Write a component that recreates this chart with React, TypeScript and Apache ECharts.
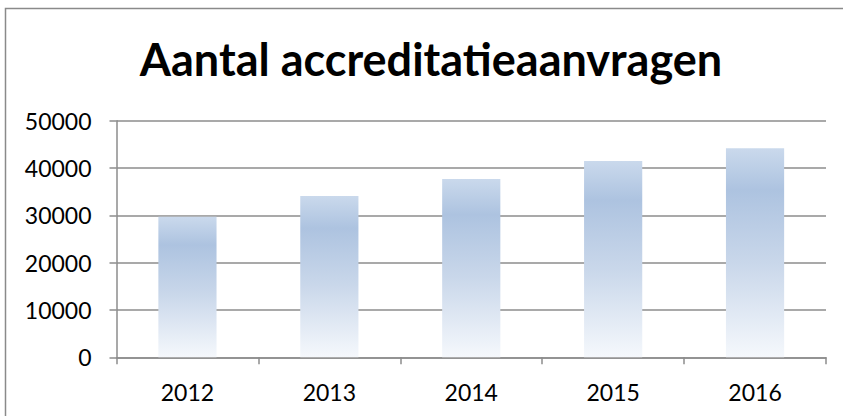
import React, { useEffect, useRef } from "react";
import * as echarts from "echarts";

const categories = ["2012", "2013", "2014", "2015", "2016"];
const values = [29700, 34100, 37700, 41500, 44200];
const titleText = "Aantal accreditatieaanvragen";

export default function App() {
  const ref = useRef<HTMLDivElement>(null);
  useEffect(() => {
    if (!ref.current) return;
    const chart = echarts.init(ref.current, null, { renderer: "svg" });
    const barGradient = new echarts.graphic.LinearGradient(0, 0, 0, 1, [
      { offset: 0, color: "#cad9ec" },
      { offset: 0.2, color: "#adc3e0" },
      { offset: 0.55, color: "#c9d7ea" },
      { offset: 1, color: "#f5f8fc" },
    ]);
    chart.setOption({
      animation: false,
      backgroundColor: "#ffffff",
      textStyle: { fontFamily: "Lato" },
      graphic: [
        {
          type: "rect",
          shape: { x: 5.5, y: 8.5, width: 900, height: 500 },
          style: { fill: "none", stroke: "#8a8a8a", lineWidth: 1.5 },
          silent: true,
        },
        {
          type: "text",
          x: 431,
          y: 59,
          style: {
            text: titleText,
            font: "bold 45px Lato",
            fill: "#000000",
            textAlign: "center",
            textVerticalAlign: "middle",
          },
        },
      ],
      grid: { left: 116.5, right: 17, top: 120.7, bottom: 58.7, containLabel: false },
      xAxis: {
        type: "category",
        data: categories,
        axisLine: { show: true, lineStyle: { color: "#8c8c8c", width: 1.5 } },
        axisTick: { show: true, length: 7, lineStyle: { color: "#8c8c8c", width: 1.5 } },
        axisLabel: { color: "#000", fontSize: 23, fontFamily: "Lato", margin: 23 },
        splitLine: { show: false },
      },
      yAxis: {
        type: "value",
        min: 0,
        max: 50000,
        interval: 10000,
        axisLine: { show: true, lineStyle: { color: "#8c8c8c", width: 1.5 } },
        axisTick: { show: true, length: 7, lineStyle: { color: "#8c8c8c", width: 1.5 } },
        axisLabel: {
          color: "#000",
          fontSize: 23,
          fontFamily: "Lato",
          margin: 25,
          formatter: (v: number) => String(v),
        },
        splitLine: { show: true, lineStyle: { color: "#8c8c8c", width: 1.5 } },
      },
      series: [
        {
          type: "bar",
          data: values,
          barWidth: "41%",
          itemStyle: { color: barGradient },
        },
      ],
    });
    return () => chart.dispose();
  }, []);
  return (
    <div
      ref={ref}
      style={{ position: "absolute", left: 0, top: 0, width: 843, height: 416 }}
    />
  );
}
